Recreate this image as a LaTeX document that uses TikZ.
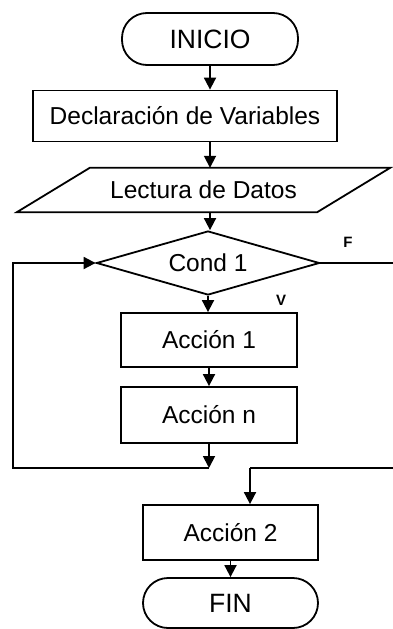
\documentclass[tikz,border=0pt]{standalone}
\usepackage{fontspec}
\setmainfont{Liberation Sans}
\usetikzlibrary{arrows.meta,shapes.geometric,calc}
\begin{document}
\begin{tikzpicture}[x=1pt,y=1pt,
  every node/.style={inner sep=0pt, font=\fontsize{24.5}{29}\selectfont},
  line/.style={line width=1.8pt, line join=miter},
  arr/.style={line, -{Triangle[length=12pt,width=12pt]}},
  terminal/.style={draw, line width=1.8pt, rectangle, rounded corners=25pt,
    font=\fontsize{26.5}{31}\selectfont},
  procbox/.style={draw, line width=1.8pt, rectangle},
  decision/.style={draw, line width=1.8pt, diamond, aspect=3.5},
  flag/.style={font=\fontsize{15}{17}\selectfont\bfseries}
]
\useasboundingbox (0,0) rectangle (392,-629);

% nodes
\node[terminal, minimum width=176pt, minimum height=52pt] (ini) at (210,-39) {INICIO};
\node[procbox, minimum width=304pt, minimum height=51pt] (dec) at (185,-116) {Declaración de Variables};
\node[minimum width=300pt, minimum height=44pt] (lec) at (203.5,-190) {Lectura de Datos};
\draw[line] ($(lec.south west)+(-36.5,0)$) -- ($(lec.north west)+(36.5,0)$)
  -- ($(lec.north east)+(36.5,0)$) -- ($(lec.south east)+(-36.5,0)$) -- cycle;
\node[decision, minimum width=223pt, minimum height=64pt] (cond) at (208,-263) {Cond 1};
\node[procbox, minimum width=176pt, minimum height=54pt] (a1) at (209,-340) {Acción 1};
\node[procbox, minimum width=176pt, minimum height=56pt] (an) at (209,-415) {Acción n};
\node[procbox, minimum width=175pt, minimum height=55pt] (a2) at (230.5,-532.5) {Acción 2};
\node[terminal, minimum width=175pt, minimum height=50pt] (fin) at (230.5,-603) {FIN};

\node[flag] (lf) at (348,-242) {F};
\node[flag] (lv) at (281,-300) {V};

% junction points of the loop and the exit path
\coordinate (j1) at (209,-468);
\coordinate (lx) at (13,-468);
\coordinate (rx) at (395,-468);
\coordinate (j2) at (250,-468);

% connectors
\draw[arr] (ini.south) -- (ini.south |- dec.north);
\draw[arr] (ini.south |- dec.south) -- (ini.south |- lec.north);
\draw[arr] (ini.south |- lec.south) -- (ini.south |- cond.north);
\draw[arr] (cond.south) -- (cond.south |- a1.north);
\draw[arr] (a1) -- (an);
\draw[arr] (an.south) -- (j1);
\draw[arr] (j1) -- (lx) |- (cond.west);
\draw[line] (cond.east) -| (rx) -- (j2);
\draw[arr] (j2) -- (j2 |- a2.north);
\draw[arr] (a2.south) -- (fin.north);
\end{tikzpicture}
\end{document}
